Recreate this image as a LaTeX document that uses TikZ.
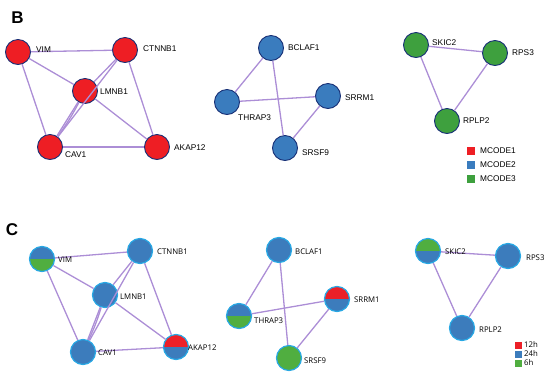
\documentclass[tikz,border=0pt]{standalone}
\usepackage{fontspec}
\setmainfont{Liberation Sans}
\newfontfamily\opfont{Open Sans}
\usepackage{tikz}
\definecolor{mcred}{RGB}{238,30,36}
\definecolor{mcblue}{RGB}{58,124,190}
\definecolor{mcgreen}{RGB}{62,160,62}
\definecolor{rimnavy}{RGB}{24,48,118}
\definecolor{rimcyan}{RGB}{40,168,228}
\definecolor{tblue}{RGB}{60,124,188}
\definecolor{tred}{RGB}{236,32,40}
\definecolor{tgreen}{RGB}{80,174,64}
\definecolor{linkpurple}{RGB}{172,142,214}
\tikzset{
  gene/.style={circle,minimum size=25pt,inner sep=0pt,line width=0.9pt},
  cluA/.style={gene,fill=mcred,draw=rimnavy},
  cluB/.style={gene,fill=mcblue,draw=rimnavy},
  cluC/.style={gene,fill=mcgreen,draw=rimnavy},
  timept/.style={gene,fill=tblue,draw=rimcyan,line width=1.2pt},
  halves/.style 2 args={timept,path picture={
      \fill[#1] (path picture bounding box.north west) rectangle (path picture bounding box.east);
      \fill[#2] (path picture bounding box.west) rectangle (path picture bounding box.south east);}},
  link/.style={linkpurple,line width=1.3pt},
  tagB/.style={anchor=west,inner sep=0pt,font=\fontsize{8.3}{10}\selectfont},
  tagC/.style={anchor=west,inner sep=0pt,font=\opfont\fontsize{7.8}{9}\selectfont},
  panel/.style={inner sep=0pt,font=\fontsize{17}{17}\selectfont\bfseries},
}
\begin{document}
\begin{tikzpicture}[x=1pt,y=-1pt]
      \useasboundingbox (0,0) rectangle (550,376);
      \node[panel] (pB) at (17.5,17.5) {B};
      \node[panel] (pC) at (12,230) {C};
      \node[cluA] (vimB) at (18,52) {};
      \node[cluA] (ctnB) at (125,50) {};
      \node[cluA] (lmnB) at (85,91) {};
      \node[cluA] (cavB) at (50,147) {};
      \node[cluA] (akaB) at (157,147) {};
      \node[cluB] (bclB) at (271,48) {};
      \node[cluB] (thrB) at (227,102) {};
      \node[cluB] (srmB) at (328,96) {};
      \node[cluB] (srsB) at (285,148) {};
      \node[cluC] (skiB) at (416,45) {};
      \node[cluC] (rpsB) at (495,53) {};
      \node[cluC] (rplB) at (447,121) {};
      \draw[link] (vimB) -- (ctnB);
      \draw[link] (vimB) -- (lmnB);
      \draw[link] (vimB) -- (cavB);
      \draw[link] (ctnB) -- (lmnB);
      \draw[link] (ctnB) -- (cavB);
      \draw[link] (ctnB) -- (akaB);
      \draw[link] (lmnB) -- (cavB);
      \draw[link] (lmnB) to[bend left=4] (cavB);
      \draw[link] (lmnB) -- (akaB);
      \draw[link] (cavB) -- (akaB);
      \draw[link] (bclB) -- (thrB);
      \draw[link] (bclB) -- (srsB);
      \draw[link] (thrB) -- (srmB);
      \draw[link] (srmB) -- (srsB);
      \draw[link] (skiB) -- (rpsB);
      \draw[link] (skiB) -- (rplB);
      \draw[link] (rpsB) -- (rplB);
      \node[tagB] (vimBt) at (36,50) {VIM};
      \node[tagB] (ctnBt) at (143,49) {CTNNB1};
      \node[tagB] (lmnBt) at (100,92) {LMNB1};
      \node[tagB] (cavBt) at (65,155) {CAV1};
      \node[tagB] (akaBt) at (174,148) {AKAP12};
      \node[tagB] (bclBt) at (288,48) {BCLAF1};
      \node[tagB] (thrBt) at (238,118) {THRAP3};
      \node[tagB] (srmBt) at (345,98) {SRRM1};
      \node[tagB] (srsBt) at (302,153) {SRSF9};
      \node[tagB] (skiBt) at (432,43) {SKIC2};
      \node[tagB] (rpsBt) at (512,53) {RPS3};
      \node[tagB] (rplBt) at (463,121) {RPLP2};
      \fill[mcred] (467,147) rectangle ++(8,8);
      \fill[mcblue] (467,161) rectangle ++(8,8);
      \fill[mcgreen] (467,175) rectangle ++(8,8);
      \node[tagB] (keyA) at (480,151) {MCODE1};
      \node[tagB] (keyB) at (480,165) {MCODE2};
      \node[tagB] (keyC) at (480,179) {MCODE3};
      \node[halves={tblue}{tgreen}] (vimC) at (42,259) {};
      \node[timept] (ctnC) at (140,251) {};
      \node[timept] (lmnC) at (105,295) {};
      \node[timept] (cavC) at (83,352) {};
      \node[halves={tred}{tblue}] (akaC) at (176,347) {};
      \node[timept] (bclC) at (279,250) {};
      \node[halves={tblue}{tgreen}] (thrC) at (239,316) {};
      \node[halves={tred}{tblue}] (srmC) at (337,299) {};
      \node[timept,fill=tgreen] (srsC) at (289,358) {};
      \node[halves={tgreen}{tblue}] (skiC) at (428,251) {};
      \node[timept] (rpsC) at (508,256) {};
      \node[timept] (rplC) at (462,328) {};
      \draw[link] (vimC) -- (ctnC);
      \draw[link] (vimC) -- (lmnC);
      \draw[link] (vimC) -- (cavC);
      \draw[link] (ctnC) -- (lmnC);
      \draw[link] (ctnC) -- (cavC);
      \draw[link] (ctnC) -- (akaC);
      \draw[link] (lmnC) -- (cavC);
      \draw[link] (lmnC) to[bend left=4] (cavC);
      \draw[link] (lmnC) -- (akaC);
      \draw[link] (cavC) -- (akaC);
      \draw[link] (bclC) -- (thrC);
      \draw[link] (bclC) -- (srsC);
      \draw[link] (thrC) -- (srmC);
      \draw[link] (srmC) -- (srsC);
      \draw[link] (skiC) -- (rpsC);
      \draw[link] (skiC) -- (rplC);
      \draw[link] (rpsC) -- (rplC);
      \node[tagC] (vimCt) at (58,260) {VIM};
      \node[tagC] (ctnCt) at (157,252) {CTNNB1};
      \node[tagC] (lmnCt) at (120,297) {LMNB1};
      \node[tagC] (cavCt) at (98,353) {CAV1};
      \node[tagC] (akaCt) at (188,348) {AKAP12};
      \node[tagC] (bclCt) at (295,252) {BCLAF1};
      \node[tagC] (thrCt) at (254,321) {THRAP3};
      \node[tagC] (srmCt) at (354,300) {SRRM1};
      \node[tagC] (srsCt) at (304,361) {SRSF9};
      \node[tagC] (skiCt) at (445,252) {SKIC2};
      \node[tagC] (rpsCt) at (526,258) {RPS3};
      \node[tagC] (rplCt) at (479,330) {RPLP2};
      \fill[tred] (515,341.5) rectangle ++(7,7);
      \fill[tblue] (515,350.5) rectangle ++(7,7);
      \fill[tgreen] (515,359.5) rectangle ++(7,7);
      \node[tagC] (keyD) at (524,345) {12h};
      \node[tagC] (keyE) at (524,354) {24h};
      \node[tagC] (keyF) at (524,363) {6h};
\end{tikzpicture}
\end{document}
